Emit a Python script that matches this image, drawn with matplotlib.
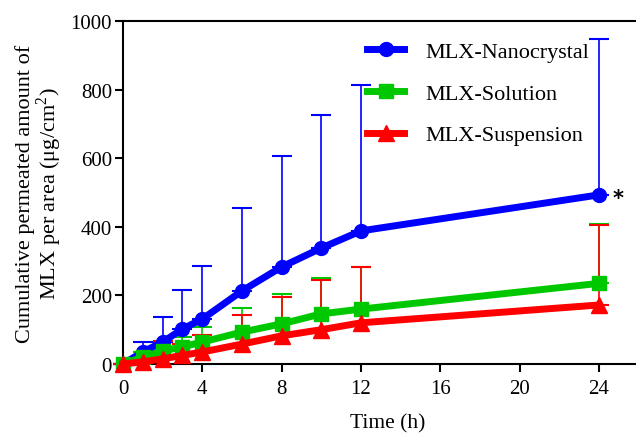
import matplotlib
matplotlib.use("Agg")
import matplotlib.pyplot as plt
import numpy as np

plt.rcParams['font.family'] = ['Liberation Serif', 'DejaVu Serif']
plt.rcParams['mathtext.fontset'] = 'custom'
plt.rcParams['mathtext.rm'] = 'Liberation Serif'

# sampling times (h)
times = [0, 1, 2, 3, 4, 6, 8, 10, 12, 24]

# cumulative permeated amount (ug/cm2) and upper SD
nanoMean = [0, 35, 64, 102, 131, 213, 283, 338, 388, 493]
nanoSD = [0, 29, 73, 114, 155, 242, 323, 388, 425, 455]
solMean = [0, 20, 38, 50, 64, 93, 117, 146, 160, 235]
solSD = [0, 15, 12, 29, 44, 70, 87, 105, 123, 173]
suspMean = [0, 6, 15, 25, 35, 58, 82, 100, 120, 172]
suspSD = [0, 17, 52, 33, 50, 84, 113, 145, 163, 233]

series = [
    ('MLX-Nanocrystal', nanoMean, nanoSD, '#0000ff', 'o', 10),
    ('MLX-Solution', solMean, solSD, '#00c800', 's', 10),
    ('MLX-Suspension', suspMean, suspSD, '#ff0000', '^', 11),
]

fig = plt.figure(figsize=(6.36, 4.35), dpi=100)
ax = fig.add_axes([0.1934, 0.161, 0.8066, 0.7884])

for label, mean, sd, color, marker, ms in series:
    ax.errorbar(times, mean, yerr=[np.zeros(len(sd)), sd], fmt='none',
                ecolor=color, elinewidth=1.2, capsize=7, capthick=1.5, clip_on=False)
    ax.plot(times, mean, '-', color=color, lw=5, marker=marker, ms=ms,
            label=label, clip_on=False, zorder=3)

# significance mark next to the last nanocrystal point
ax.text(24.7, nanoMean[-1] - 10, '*', fontsize=15, fontweight='bold', va='center', ha='left',
        family='DejaVu Sans')

ax.set_xlim(0, 25.87)
ax.set_ylim(0, 1000)
ax.set_xticks([0, 4, 8, 12, 16, 20, 24])
ax.set_yticks([0, 200, 400, 600, 800, 1000])
ax.tick_params(direction='out', length=6, width=1.5, labelsize=15)
ax.tick_params(axis='x', pad=5)
ax.tick_params(axis='y', pad=2)
ax.spines['right'].set_visible(False)
for s in ['left', 'bottom', 'top']:
    ax.spines[s].set_linewidth(1.5)

ax.set_xlabel('Time (h)', fontsize=15.5, labelpad=11, x=0.515)
ax.set_ylabel('Cumulative permeated amount of\nMLX per area (μg/cm$^2$)', fontsize=16,
              linespacing=1.0, labelpad=4.5)

ax.legend(loc='upper left', bbox_to_anchor=(0.475, 0.94), frameon=False, fontsize=16,
          handlelength=1.7, labelspacing=0.95, handletextpad=0.95,
          borderpad=0, borderaxespad=0)

fig.savefig('out.png', dpi=100)
